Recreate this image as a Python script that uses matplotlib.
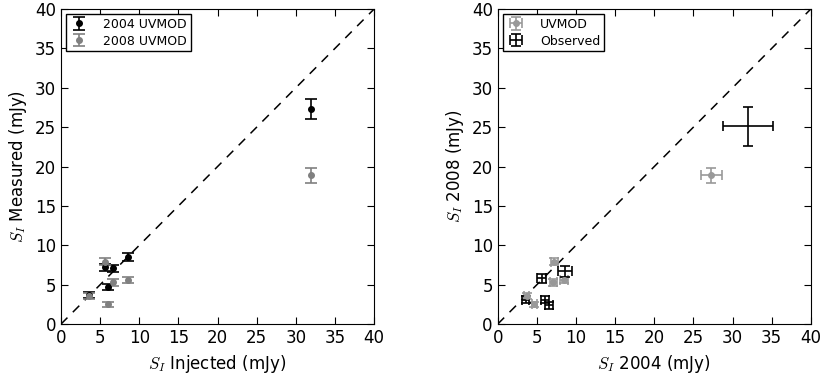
import matplotlib
matplotlib.use("Agg")
import matplotlib.pyplot as plt
import numpy as np

# injected source fluxes (mJy) and what was recovered in each epoch
injected = [3.6, 5.6, 6.0, 6.6, 8.6, 32.0]
meas_2004 = [3.7, 7.2, 4.7, 7.1, 8.5, 27.3]
err_2004 = [0.35, 0.45, 0.35, 0.45, 0.5, 1.3]
meas_2008 = [3.6, 7.9, 2.5, 5.3, 5.6, 18.9]
err_2008 = [0.35, 0.45, 0.3, 0.4, 0.4, 0.95]

# observed 2004 vs 2008 fluxes
obs_2004 = [3.6, 5.6, 6.0, 6.6, 8.6, 32.0]
obs_2004_err = [0.45, 0.55, 0.5, 0.5, 0.9, 3.2]
obs_2008 = [3.1, 5.8, 3.1, 2.4, 6.7, 25.1]
obs_2008_err = [0.45, 0.55, 0.45, 0.45, 0.7, 2.5]

ticks = [0, 5, 10, 15, 20, 25, 30, 35, 40]

plt.rcParams.update({
    "font.family": "DejaVu Sans",
    "font.size": 12,
    "mathtext.fontset": "cm",
    "xtick.direction": "in",
    "ytick.direction": "in",
    "xtick.top": True,
    "ytick.right": True,
    "xtick.major.size": 5,
    "ytick.major.size": 5,
    "legend.fancybox": False,
    "legend.edgecolor": "black",
    "legend.framealpha": 1.0,
})

fig = plt.figure(figsize=(8.24, 3.76), dpi=100)
ax1 = fig.add_axes([0.074, 0.138, 0.380, 0.838])
ax2 = fig.add_axes([0.604, 0.138, 0.380, 0.838])

ax1.errorbar(injected, meas_2004, yerr=err_2004, fmt="o", color="black",
             ms=4, capsize=4, elinewidth=1.2, capthick=1.2, label="2004 UVMOD")
ax1.errorbar(injected, meas_2008, yerr=err_2008, fmt="o", color="0.5",
             mec="0.5", ms=4, capsize=4, elinewidth=1.2, capthick=1.2,
             label="2008 UVMOD")
ax1.set_ylabel("$S_I$ Measured (mJy)")
ax1.set_xlabel("$S_I$ Injected (mJy)")

ax2.errorbar(meas_2004, meas_2008, xerr=err_2004, yerr=err_2008, fmt="o",
             color="0.6", mec="0.6", ms=4, capsize=3.5, elinewidth=1.2,
             capthick=1.2, label="UVMOD")
ax2.errorbar(obs_2004, obs_2008, xerr=obs_2004_err, yerr=obs_2008_err,
             fmt="none", ecolor="black", capsize=3.5, elinewidth=1.2,
             capthick=1.2, label="Observed")
ax2.set_xlabel("$S_I$ 2004 (mJy)")
ax2.set_ylabel("$S_I$ 2008 (mJy)")

for ax in (ax1, ax2):
    ax.plot([0, 40], [0, 40], color="black", ls="--", dashes=(6, 5),
            lw=1.1, zorder=0)
    ax.set_xlim(0, 40)
    ax.set_ylim(0, 40)
    ax.set_xticks(ticks)
    ax.set_yticks(ticks)
    ax.legend(loc="upper left", numpoints=1, fontsize=9, borderaxespad=0.4,
              handlelength=1.5, handletextpad=1.2, borderpad=0.3,
              labelspacing=0.3)

fig.savefig("out.png", dpi=100)
